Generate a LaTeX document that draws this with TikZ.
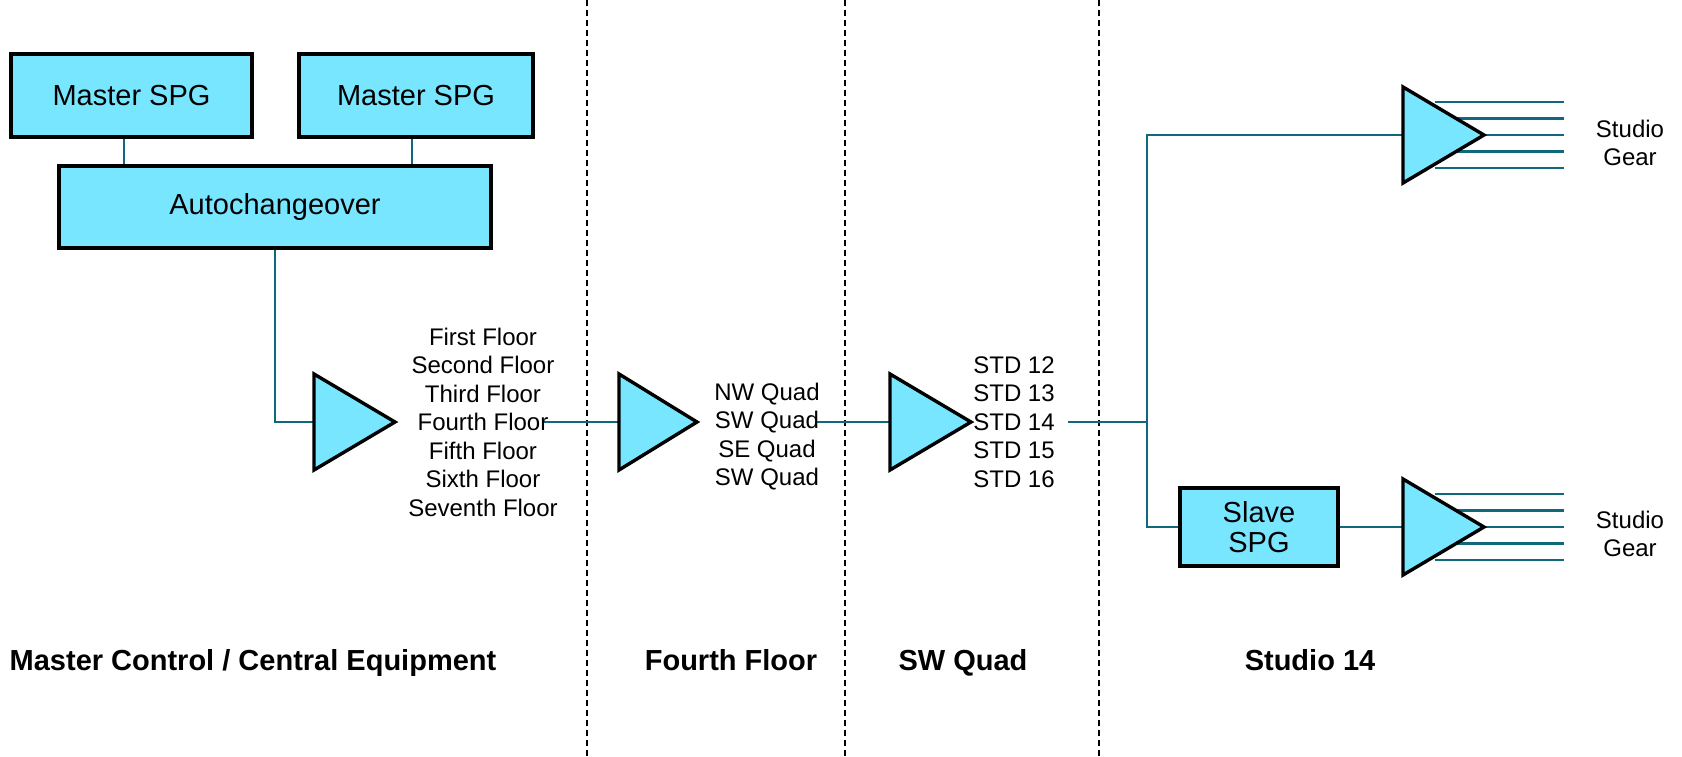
\documentclass[tikz,border=0pt]{standalone}
\usepackage{fontspec}
\setmainfont{Liberation Sans}
\usetikzlibrary{calc}
\definecolor{boxfill}{RGB}{120,230,255}
\definecolor{wirec}{RGB}{16,104,124}
\tikzset{
  blk/.style={draw=black, line width=1.7pt, fill=boxfill, inner sep=0pt, align=center, font=\fontsize{14.5}{15}\selectfont},
  amp/.style={draw=black, line width=1.7pt, fill=boxfill, line join=miter},
  wire/.style={draw=wirec, line width=1.1pt},
  lbl/.style={inner sep=0pt, align=center, font=\fontsize{12}{14.25}\selectfont},
  zone/.style={inner sep=0pt, anchor=base, font=\fontsize{14.5}{17}\selectfont\bfseries},
  divider/.style={draw=black, line width=1pt, dash pattern=on 3pt off 2pt}
}
\begin{document}
\begin{tikzpicture}[x=0.5pt, y=-0.5pt]
\useasboundingbox (0,0) rectangle (1682,756);
% dividers
\draw[divider] (587,0) -- (587,756);
\draw[divider] (845,0) -- (845,756);
\draw[divider] (1099,0) -- (1099,756);
% boxes
\node[blk, minimum width=120.5pt, minimum height=41.5pt] (m1) at (131.5,95.5) {Master SPG};
\node[blk, minimum width=117pt, minimum height=41.5pt] (m2) at (416,95.5) {Master SPG};
\node[blk, minimum width=216pt, minimum height=41pt] (auto) at (275,207) {Autochangeover};
\node[blk, minimum width=79pt, minimum height=39pt] (slave) at (1259,527) {Slave\\SPG};
% coordinates
\coordinate (t1in) at (314,422); \coordinate (t1out) at (395,422);
\coordinate (t2in) at (619,422); \coordinate (t2out) at (697,422);
\coordinate (t3in) at (890,422); \coordinate (t3out) at (971,422);
\coordinate (taIn) at (1403,135); \coordinate (taOut) at (1484,135);
\coordinate (tbIn) at (1403,527); \coordinate (tbOut) at (1484,527);
\coordinate (f4) at (542,422);
\coordinate (q2) at (815,422);
\coordinate (s14) at (1068,422);
\coordinate (bustop) at (1147,135);
\coordinate (busmid) at (1147,422);
\coordinate (busbot) at (1147,527);
% wires
\draw[wire] ($(m1.south)+(-7.5,0)$) coordinate (a1) -- (a1 |- auto.north);
\draw[wire] ($(m2.south)+(-4,0)$) coordinate (a2) -- (a2 |- auto.north);
\draw[wire] (auto.south) |- (t1in);
\draw[wire] (f4) -- (t2in);
\draw[wire] (q2) -- (t3in);
\draw[wire] (s14) -- (busmid);
\draw[wire] (taIn) -- (bustop) -- (busbot) -- (slave.west);
\draw[wire] (slave.east) -- (tbIn);
\foreach \d in {-33,-16.5,0,16.5,33} {
  \draw[wire] ($(taOut)+(-49,\d)$) -- ++(129,0);
  \draw[wire] ($(tbOut)+(-49,\d)$) -- ++(129,0);
}
% triangles
\draw[amp] (1403,87) -- (taOut) -- (1403,183) -- cycle;
\draw[amp] (314,374) -- (t1out) -- (314,470) -- cycle;
\draw[amp] (619,374) -- (t2out) -- (619,470) -- cycle;
\draw[amp] (890,374) -- (t3out) -- (890,470) -- cycle;
\draw[amp] (1403,479) -- (tbOut) -- (1403,575) -- cycle;
% labels
\node[lbl] (floors) at (483,422) {First Floor\\Second Floor\\Third Floor\\Fourth Floor\\Fifth Floor\\Sixth Floor\\Seventh Floor};
\node[lbl] (quads) at (767,436.5) {NW Quad\\SW Quad\\SE Quad\\SW Quad};
\node[lbl] (stds) at (1014,422) {STD 12\\STD 13\\STD 14\\STD 15\\STD 16};
\node[lbl] (gearA) at (1630,143) {Studio\\Gear};
\node[lbl] (gearB) at (1630,534) {Studio\\Gear};
\node[zone] (z1) at (253,670) {Master Control / Central Equipment};
\node[zone] (z2) at (731,670) {Fourth Floor};
\node[zone] (z3) at (963,670) {SW Quad};
\node[zone] (z4) at (1310,670) {Studio 14};
\end{tikzpicture}
\end{document}
